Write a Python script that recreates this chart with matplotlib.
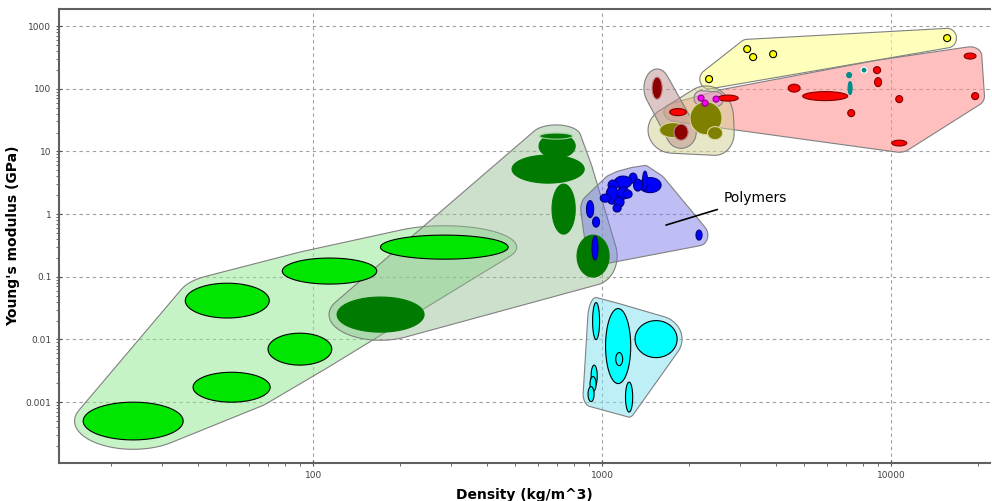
import numpy as np
import matplotlib.pyplot as plt
from matplotlib.colors import to_rgba
from matplotlib.ticker import LogLocator, NullFormatter

# bubbles as (density lo, density hi, modulus lo, modulus hi)
foams = [
    (16.0, 35.5, 0.00025, 0.0010),
    (38.4, 71.0, 0.0010, 0.0030),
    (69.8, 116, 0.0039, 0.0126),
    (36.1, 70.5, 0.022, 0.079),
    (78.2, 166, 0.0765, 0.199),
    (171, 473, 0.191, 0.462),
]
natural = [
    (121, 242, 0.0131, 0.0475),
    (488, 867, 3.12, 8.73),
    (671, 807, 0.48, 3.01),
    (819, 1057, 0.099, 0.462),
    (605, 807, 7.82, 18.9),
    (608, 790, 15.7, 19.6),
]
polymers = [
    (1343, 1600, 2.20, 3.82),
    (1380, 1436, 2.33, 4.85),
    (1240, 1321, 3.12, 4.51),
    (1104, 1265, 2.60, 4.04),
    (1049, 1135, 2.41, 3.49),
    (1033, 1135, 1.44, 2.80),
    (1128, 1240, 1.73, 2.70),
    (1101, 1191, 1.29, 1.87),
    (985, 1067, 1.55, 2.08),
    (1183, 1270, 1.80, 2.41),
    (1091, 1164, 1.08, 1.44),
    (1285, 1374, 2.33, 3.61),
    (883, 935, 0.88, 1.64),
    (927, 980, 0.62, 0.90),
    (923, 968, 0.185, 0.446),
    (2113, 2218, 0.385, 0.556),
]
elastomers = [
    (927, 980, 0.00996, 0.0388),
    (1028, 1256, 0.00198, 0.0311),
    (1115, 1178, 0.00383, 0.00618),
    (1300, 1818, 0.00514, 0.0200),
    (916, 962, 0.00174, 0.0039),
    (908, 953, 0.00148, 0.00256),
    (894, 938, 0.00102, 0.00177),
    (1205, 1276, 0.000695, 0.00209),
]
metals = [
    (1713, 1958, 37.2, 48.2),
    (2518, 2958, 63.4, 79.1),
    (4406, 4844, 88.3, 118),
    (4943, 7080, 64.6, 89.9),
    (7080, 7484, 35.9, 46.4),
    (8690, 9200, 174, 225),
    (8770, 9270, 108, 150),
    (10380, 10970, 60.0, 77.6),
    (17900, 19680, 297, 370),
    (19000, 20100, 67.0, 86.7),
    (10050, 11330, 12.2, 15.1),
]
teal = [
    (7020, 7300, 150, 181),
    (7100, 7330, 80.5, 130),
    (7870, 8260, 177, 221),
]
ceramics = [
    (2014, 2600, 18.5, 62.3),
    (1581, 1958, 16.6, 28.8),
    (2317, 2612, 15.4, 24.9),
]
darkred = [
    (1489, 1614, 68.2, 153),
    (1774, 1985, 15.1, 27.2),
]
magenta = [
    (2148, 2253, 63.4, 79.1),
    (2218, 2327, 52.7, 65.8),
    (2421, 2541, 61.1, 76.2),
]
yellow = [
    (2281, 2411, 125, 162),
    (3090, 3266, 377, 487),
    (3238, 3426, 281, 363),
    (3800, 4018, 313, 405),
    (15200, 16080, 564, 729),
]


def ellipse(b, padx=0.0, pady=0.0, n=120):
    x0, x1, y0, y1 = np.log10(b)
    t = np.linspace(0, 2 * np.pi, n)
    x = (x0 + x1) / 2 + ((x1 - x0) / 2 + padx) * np.cos(t)
    y = (y0 + y1) / 2 + ((y1 - y0) / 2 + pady) * np.sin(t)
    return x, y


def hull(pts):
    pts = sorted(set(map(tuple, np.round(pts, 6))))

    def cross(o, a, b):
        return (a[0] - o[0]) * (b[1] - o[1]) - (a[1] - o[1]) * (b[0] - o[0])
    lower, upper = [], []
    for p in pts:
        while len(lower) >= 2 and cross(lower[-2], lower[-1], p) <= 0:
            lower.pop()
        lower.append(p)
    for p in reversed(pts):
        while len(upper) >= 2 and cross(upper[-2], upper[-1], p) <= 0:
            upper.pop()
        upper.append(p)
    return np.array(lower[:-1] + upper[:-1])


def envelope(ax, boxes, color, alpha, padx, pady):
    pts = []
    for b in boxes:
        x, y = ellipse(b, padx, pady, 60)
        pts.append(np.column_stack([x, y]))
    h = hull(np.vstack(pts))
    ax.fill(10 ** h[:, 0], 10 ** h[:, 1], fc=to_rgba(color, alpha),
            ec='#808080', lw=0.8, zorder=2)


def bubbles(ax, boxes, color, edge='black', lw=0.8):
    for b in boxes:
        x, y = ellipse(b)
        ax.fill(10 ** x, 10 ** y, fc=color, ec=edge, lw=lw, zorder=3)


fig = plt.figure(figsize=(9.92, 5.01), dpi=100)
ax = fig.add_axes([0.0595, 0.0758, 0.9385, 0.906])
ax.set_xscale('log')
ax.set_yscale('log')
ax.set_xlim(13.2, 22000)
ax.set_ylim(1.07e-4, 1860)

# envelopes
envelope(ax, foams, '#8fe88f', 0.5, 0.03, 0.15)
envelope(ax, natural, '#8fbc8f', 0.45, 0.028, 0.13)
envelope(ax, polymers, '#7070e8', 0.45, 0.02, 0.09)
envelope(ax, elastomers, '#7fe0f0', 0.5, 0.017, 0.08)
envelope(ax, metals, '#ff8c8c', 0.55, 0.02, 0.1)
envelope(ax, yellow, '#ffff90', 0.6, 0.02, 0.1)
envelope(ax, ceramics, '#d0d090', 0.5, 0.04, 0.25)
envelope(ax, darkred, '#bc8f8f', 0.5, 0.028, 0.13)
envelope(ax, magenta, '#ee82ee', 0.4, 0.014, 0.07)

# material bubbles
bubbles(ax, foams, '#00e600')
bubbles(ax, natural[:5], '#007a00', edge='#007a00')
bubbles(ax, natural[5:], '#007a00', edge='#a0d0a0')
bubbles(ax, polymers, '#0000ff', edge='#000080')
bubbles(ax, elastomers, '#00ffff')
bubbles(ax, ceramics, '#808000', edge='#d8d8a0')
bubbles(ax, darkred, '#8b0000', edge='#c08080')
bubbles(ax, metals, '#ff0000', edge='#800000')
bubbles(ax, magenta, '#ff00ff', edge='#800080')
bubbles(ax, yellow, '#ffff00')
bubbles(ax, teal[:2], '#008b8b', edge='#008b8b')
bubbles(ax, teal[2:], '#008b8b', edge='white')

ax.annotate('Polymers', xy=(1664, 0.668), xytext=(2625, 1.80),
            fontsize=10, va='center', ha='left',
            arrowprops=dict(arrowstyle='-', color='black', lw=1.2,
                            shrinkA=4, shrinkB=0), zorder=5)

ax.set_xticks([100, 1000, 10000])
ax.set_xticklabels(['100', '1000', '10000'])
ax.set_yticks([0.001, 0.01, 0.1, 1, 10, 100, 1000])
ax.set_yticklabels(['0.001', '0.01', '0.1', '1', '10', '100', '1000'])
ax.xaxis.set_minor_locator(LogLocator(base=10, subs=np.arange(2, 10)))
ax.yaxis.set_minor_locator(LogLocator(base=10, subs=np.arange(2, 10)))
ax.xaxis.set_minor_formatter(NullFormatter())
ax.yaxis.set_minor_formatter(NullFormatter())
ax.tick_params(which='major', labelsize=6.5, labelcolor='#404040',
               length=4, color='#505050', direction='inout')
ax.tick_params(which='minor', length=2, color='#505050', direction='out')

ax.grid(True, which='major', ls=(0, (3, 3)), color='#a0a0a0', lw=0.8)
ax.set_axisbelow(True)
for s in ['left', 'bottom', 'top']:
    ax.spines[s].set_color('#606060')
    ax.spines[s].set_linewidth(1.5)
ax.spines['right'].set_visible(False)

ax.set_xlabel('Density (kg/m^3)', fontsize=10, fontweight='bold', labelpad=6)
ax.set_ylabel("Young's modulus (GPa)", fontsize=10, fontweight='bold', labelpad=4)

fig.savefig('out.png', dpi=100)
